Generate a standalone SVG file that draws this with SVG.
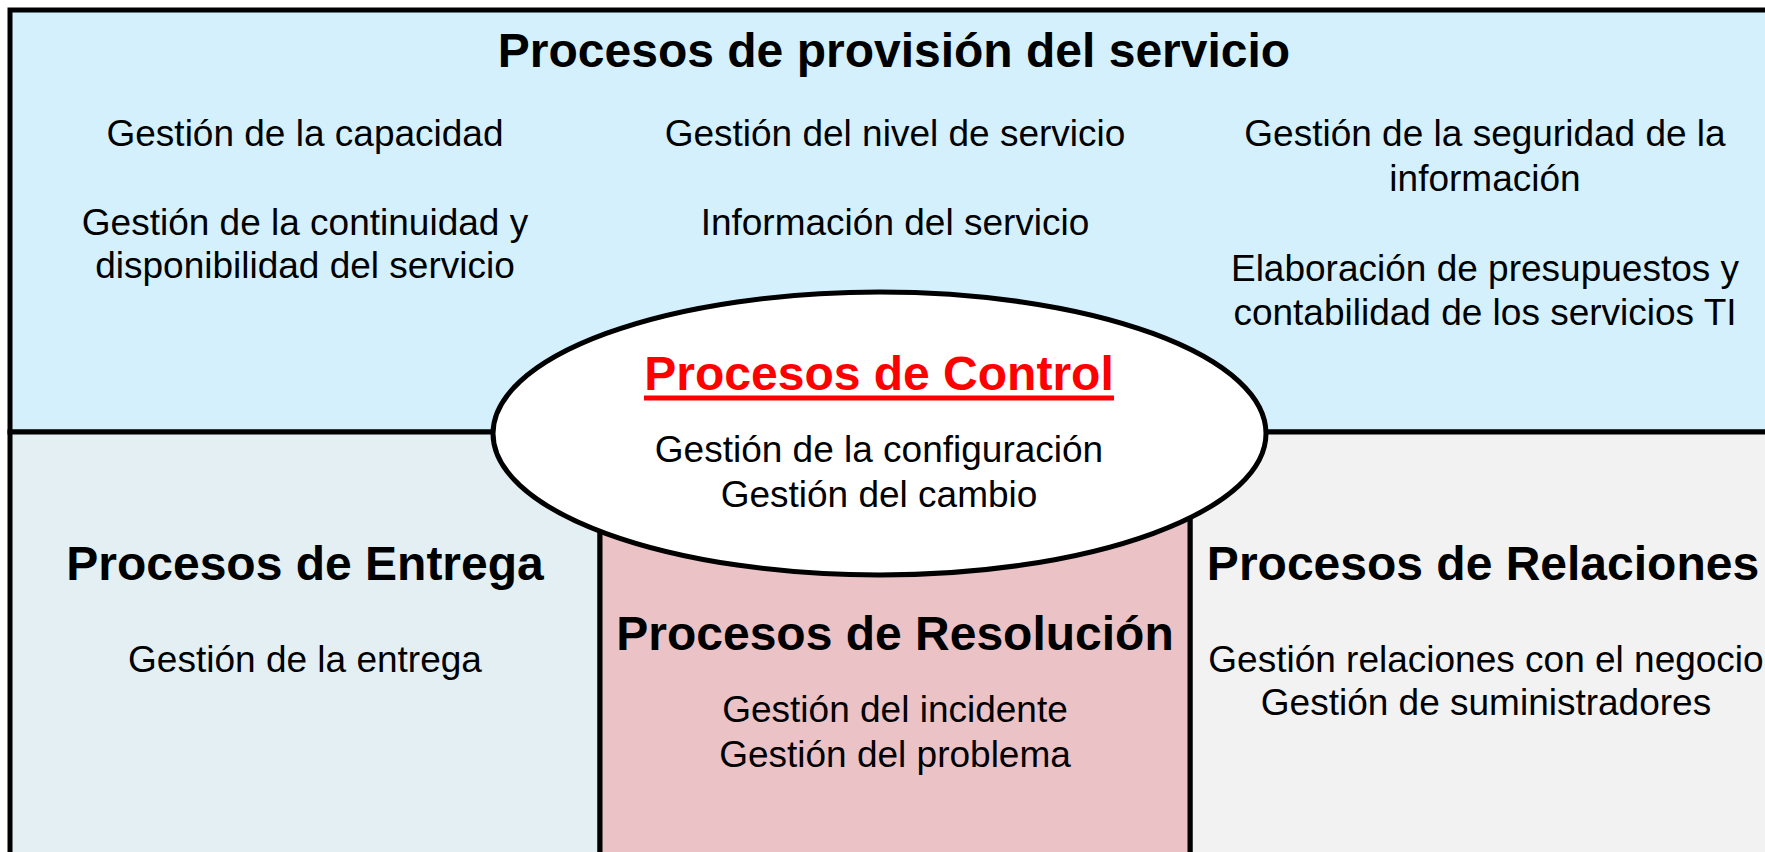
<svg xmlns="http://www.w3.org/2000/svg" width="1765" height="852" viewBox="0 0 1765 852">
<style>
.t{font-family:"Liberation Sans",Arial,sans-serif;font-size:37px;fill:#000;text-anchor:middle}
.h{font-family:"Liberation Sans",Arial,sans-serif;font-size:48px;font-weight:bold;fill:#000;text-anchor:middle}
.r{fill:#FF0000}
.b{stroke:#000;stroke-width:5}
</style>
<rect width="1765" height="852" fill="#FFFFFF"/>
<g id="provision">
<rect class="b" x="10" y="10" width="1800" height="422" fill="#D4F0FD"/>
<text class="h" x="894" y="67">Procesos de provisión del servicio</text>
<text class="t" x="305" y="146">Gestión de la capacidad</text>
<text class="t" x="305" y="235">Gestión de la continuidad y</text>
<text class="t" x="305" y="278">disponibilidad del servicio</text>
<text class="t" x="895" y="146">Gestión del nivel de servicio</text>
<text class="t" x="895" y="235">Información del servicio</text>
<text class="t" x="1485" y="146">Gestión de la seguridad de la</text>
<text class="t" x="1485" y="191">información</text>
<text class="t" x="1485" y="281">Elaboración de presupuestos y</text>
<text class="t" x="1485" y="325">contabilidad de los servicios TI</text>
</g>
<g id="entrega">
<rect class="b" x="10" y="432" width="590" height="480" fill="#E3EFF2"/>
<text class="h" x="305" y="580">Procesos de Entrega</text>
<text class="t" x="305" y="672">Gestión de la entrega</text>
</g>
<g id="relaciones">
<rect class="b" x="1190" y="432" width="620" height="480" fill="#F2F2F2"/>
<text class="h" x="1483" y="580">Procesos de Relaciones</text>
<text class="t" x="1486" y="672">Gestión relaciones con el negocio</text>
<text class="t" x="1486" y="715">Gestión de suministradores</text>
</g>
<g id="resolucion">
<rect class="b" x="600" y="432" width="590" height="480" fill="#EBC2C6"/>
<text class="h" x="895" y="650">Procesos de Resolución</text>
<text class="t" x="895" y="722">Gestión del incidente</text>
<text class="t" x="895" y="767">Gestión del problema</text>
</g>
<g id="control">
<ellipse class="b" cx="879.5" cy="433.5" rx="386.5" ry="141.5" fill="#FFFFFF"/>
<text class="h r" x="879" y="390">Procesos de Control</text>
<line x1="644" y1="398" x2="1114" y2="398" stroke="#FF0000" stroke-width="5"/>
<text class="t" x="879" y="462">Gestión de la configuración</text>
<text class="t" x="879" y="507">Gestión del cambio</text>
</g>
<g id="connectors"/>
</svg>
